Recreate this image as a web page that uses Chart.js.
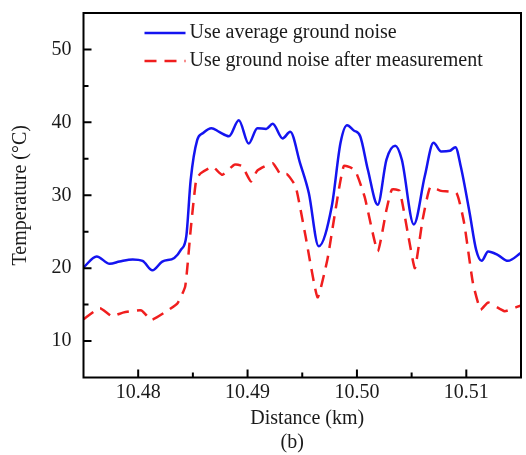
<!DOCTYPE html>
<html>
<head>
<meta charset="utf-8">
<script src="https://cdn.jsdelivr.net/npm/chart.js@4.4.1/dist/chart.umd.min.js"></script>
<style>
  html, body { margin: 0; padding: 0; background: #fff; }
  #wrap { width: 526px; height: 455px; }
</style>
</head>
<body>
<div id="wrap"><canvas id="tempChart"></canvas></div>
<script>
// valores (distância em km, temperatura em °C)
const blueX = [10.4750, 10.4762, 10.4774, 10.4783, 10.4795, 10.4804, 10.4813, 10.4822, 10.4833, 10.4839,
  10.4844, 10.4848, 10.4854, 10.4859, 10.4867, 10.4874, 10.4883, 10.4892, 10.4901, 10.4909,
  10.4917, 10.4923, 10.4932, 10.4939, 10.4948, 10.4956, 10.4965, 10.4977, 10.4985, 10.4991,
  10.4997, 10.5003, 10.5010, 10.5019, 10.5027, 10.5035, 10.5041, 10.5052, 10.5062, 10.5070,
  10.5077, 10.5085, 10.5090, 10.5095, 10.5103, 10.5109, 10.5114, 10.5120, 10.5129, 10.5138, 10.5150];
const blueY = [20.1, 21.6, 20.6, 20.9, 21.2, 21.0, 19.7, 20.9, 21.4, 22.5,
  24.4, 32.1, 37.6, 38.5, 39.2, 38.7, 38.1, 40.3, 37.1, 39.2,
  39.1, 39.8, 37.8, 38.7, 34.4, 30.3, 23.0, 28.5, 37.2, 39.6,
  38.9, 38.1, 33.5, 28.7, 34.9, 36.8, 34.9, 26.0, 32.6, 37.2,
  36.0, 36.1, 36.6, 33.9, 27.6, 22.5, 21.0, 22.3, 21.8, 21.0, 22.1];

const redX = [10.4750, 10.4765, 10.4776, 10.4786, 10.4803, 10.4812, 10.4826, 10.4836, 10.4843, 10.4848,
  10.4853, 10.4857, 10.4868, 10.4877, 10.4888, 10.4895, 10.4903, 10.4909, 10.4923, 10.4930,
  10.4936, 10.4944, 10.4953, 10.4964, 10.4973, 10.4980, 10.4988, 10.4998, 10.5007, 10.5019,
  10.5027, 10.5032, 10.5039, 10.5047, 10.5053, 10.5060, 10.5067, 10.5077, 10.5091, 10.5098,
  10.5106, 10.5113, 10.5120, 10.5135, 10.5150];
const redY = [13.0, 14.5, 13.4, 13.9, 14.2, 12.9, 14.1, 15.2, 17.5, 25.3,
  32.1, 33.0, 33.9, 32.8, 34.2, 34.0, 31.9, 33.4, 34.4, 32.9,
  32.9, 31.2, 24.4, 16.0, 21.2, 27.6, 34.0, 33.5, 29.8, 22.3,
  28.0, 30.8, 30.6, 24.4, 20.0, 26.6, 31.1, 30.6, 30.3, 26.2,
  18.0, 14.3, 15.3, 14.1, 14.9];

const seriesNames = ['Use average ground noise', 'Use ground noise after measurement'];

const xTicks = [10.48, 10.49, 10.50, 10.51];
const xMinorTicks = [10.485, 10.495, 10.505];
const yTicks = [10, 20, 30, 40, 50];
const yMinorTicks = [15, 25, 35, 45];

const toPoints = (xs, ys) => xs.map((x, i) => ({ x: x, y: ys[i] }));

const serif = "'Liberation Serif', 'Times New Roman', serif";
Chart.defaults.font.family = serif;
Chart.defaults.font.size = 20;
Chart.defaults.color = '#1a1a1a';

// moldura, ticks para dentro e legenda dentro da área do gráfico
const frameAndLegend = {
    id: 'frameAndLegend',
    afterDraw(chart) {
        const { ctx, chartArea: a, scales: { x, y } } = chart;
        ctx.save();
        ctx.strokeStyle = '#000';
        ctx.lineWidth = 2;
        ctx.strokeRect(a.left, a.top, a.right - a.left, a.bottom - a.top);

        ctx.beginPath();
        xTicks.forEach(v => {
            const px = x.getPixelForValue(v);
            ctx.moveTo(px, a.bottom); ctx.lineTo(px, a.bottom - 8);
        });
        xMinorTicks.forEach(v => {
            const px = x.getPixelForValue(v);
            ctx.moveTo(px, a.bottom); ctx.lineTo(px, a.bottom - 5);
        });
        yTicks.forEach(v => {
            const py = y.getPixelForValue(v);
            ctx.moveTo(a.left, py); ctx.lineTo(a.left + 8, py);
        });
        yMinorTicks.forEach(v => {
            const py = y.getPixelForValue(v);
            ctx.moveTo(a.left, py); ctx.lineTo(a.left + 5, py);
        });
        ctx.stroke();

        // legenda
        const lx = a.left + 61;
        ctx.font = '20px ' + serif;
        ctx.textBaseline = 'middle';
        ctx.textAlign = 'left';
        chart.data.datasets.forEach((ds, i) => {
            const ly = a.top + 20 + i * 28;
            ctx.strokeStyle = ds.borderColor;
            ctx.lineWidth = ds.borderWidth;
            ctx.setLineDash(ds.borderDash || []);
            ctx.beginPath();
            ctx.moveTo(lx, ly); ctx.lineTo(lx + 41, ly);
            ctx.stroke();
            ctx.setLineDash([]);
            ctx.fillStyle = '#1a1a1a';
            ctx.fillText(ds.label, lx + 45, ly);
        });
        ctx.restore();
    }
};

const ctx = document.getElementById('tempChart').getContext('2d');

new Chart(ctx, {
    type: 'line',
    data: {
        datasets: [{
            label: seriesNames[0],
            data: toPoints(blueX, blueY),
            borderColor: '#1414f0',
            borderWidth: 2.5,
            pointRadius: 0,
            cubicInterpolationMode: 'monotone',
            fill: false
        }, {
            label: seriesNames[1],
            data: toPoints(redX, redY),
            borderColor: '#f01e1e',
            borderWidth: 2.5,
            borderDash: [12, 8],
            pointRadius: 0,
            tension: 0.15,
            fill: false
        }]
    },
    options: {
        responsive: true,
        maintainAspectRatio: false,
        animation: false,
        layout: { padding: { top: 13, right: 5, left: 0, bottom: 0 } },
        scales: {
            x: {
                type: 'linear',
                min: 10.475,
                max: 10.515,
                grid: { display: false, drawTicks: false },
                border: { display: false },
                afterBuildTicks: s => { s.ticks = xTicks.map(v => ({ value: v })); },
                afterFit: s => { s.height = 53.5; s.paddingLeft = 0; s.paddingRight = 0; },
                ticks: {
                    padding: 3,
                    maxRotation: 0,
                    callback: v => Number(v).toFixed(2)
                },
                title: {
                    display: true,
                    text: '\u2002Distance (km)',
                    padding: { top: 0, bottom: 0 },
                    font: { size: 20 }
                }
            },
            y: {
                min: 5,
                max: 55,
                grid: { display: false, drawTicks: false },
                border: { display: false },
                afterBuildTicks: s => { s.ticks = yTicks.map(v => ({ value: v })); },
                afterFit: s => { s.width = 83.5; s.paddingTop = 0; s.paddingBottom = 0; },
                ticks: { padding: 12 },
                title: {
                    display: true,
                    text: 'Temperature (°C)',
                    padding: { top: 9, bottom: 0 },
                    font: { size: 20 }
                }
            }
        },
        plugins: {
            legend: { display: false },
            tooltip: { enabled: false },
            title: {
                display: true,
                position: 'bottom',
                fullSize: false,
                text: '(b)\u2003',
                padding: { top: 0, bottom: 0 },
                font: { size: 20, weight: 'normal' },
                color: '#1a1a1a'
            }
        }
    },
    plugins: [frameAndLegend]
});
</script>
</body>
</html>
